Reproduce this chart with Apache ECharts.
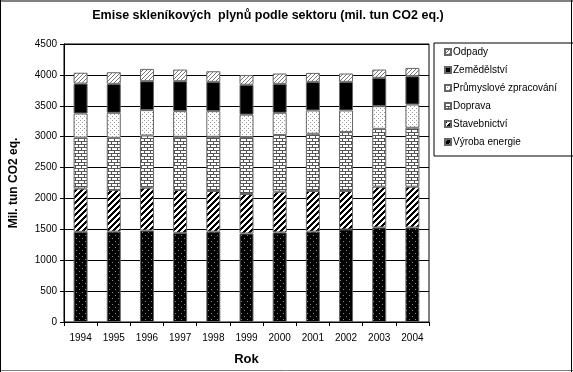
<!DOCTYPE html>
<html>
<head>
<meta charset="utf-8">
<script src="https://cdn.jsdelivr.net/npm/echarts@6/dist/echarts.min.js"></script>
<style>html,body{margin:0;padding:0;background:#fff}#c{width:573px;height:372px}</style>
</head>
<body>
<div id="c"></div>
<script>
var years = ['1994','1995','1996','1997','1998','1999','2000','2001','2002','2003','2004'];
var vyrobaEnergie = [1460,1463,1480,1443,1463,1433,1450,1463,1498,1530,1530];
var stavebnictvi  = [700,674,694,694,657,639,659,657,622,660,660];
var doprava       = [825,845,845,861,878,921,917,927,954,937,954];
var prumysl       = [390,404,411,415,415,363,360,377,350,367,376];
var zemedelstvi   = [485,469,468,485,474,484,469,463,463,458,458];
var odpady        = [175,188,199,188,172,158,167,145,135,134,135];
var yTicks = [0,4500,500];
var titleText = 'Emise skleníkových  plynů podle sektoru (mil. tun CO2 eq.)';

function tile(w, h, fn) {
  var c = document.createElement('canvas');
  c.width = w; c.height = h;
  var ctx = c.getContext('2d');
  for (var y = 0; y < h; y++) for (var x = 0; x < w; x++) {
    ctx.fillStyle = fn(x, y);
    ctx.fillRect(x, y, 1, 1);
  }
  return {image: c, repeat: 'repeat'};
}
var pVyroba = tile(6, 6, function(x,y){ return ((x===1&&y===1)||(x===4&&y===4)) ? '#8a8a8a' : '#000'; });
var pStav = tile(6, 6, function(x,y){ return ((x+y)%6) < 3 ? '#000' : '#fff'; });
var pDoprava = tile(6, 6, function(x,y){
  if (y === 0 || y === 3) return '#555';
  if (y < 3 && x === 0) return '#555';
  if (y > 3 && x === 3) return '#555';
  return '#fff';
});
var pPrumysl = tile(4, 4, function(x,y){ return ((x===0&&y===0)||(x===2&&y===2)) ? '#9a9a9a' : '#fff'; });
var pOdpady = tile(4, 4, function(x,y){ return ((x+y)%4)===0 ? '#777' : '#fff'; });

function s(name, data, color) {
  return {
    name: name, type: 'bar', stack: 'a', data: data, barWidth: 14,
    itemStyle: {color: color, borderColor: '#666', borderWidth: 1},
    emphasis: {disabled: true}
  };
}

var chart = echarts.init(document.getElementById('c'), null, {renderer: 'canvas'});
chart.setOption({
  animation: false,
  backgroundColor: '#fff',
  textStyle: {fontFamily: 'Arial, Liberation Sans, sans-serif', color: '#000'},
  grid: {left: 59, right: 144, top: 44, bottom: 50, show: true, borderColor: '#000', borderWidth: 1},
  legend: {
    orient: 'vertical', left: 434, top: 43,
    data: ['Odpady','Zemědělství','Průmyslové zpracování','Doprava','Stavebnictví','Výroba energie'],
    itemWidth: 6, itemHeight: 6, itemGap: 8, icon: 'rect',
    borderColor: '#000', borderWidth: 1, padding: [4, 20, 9, 10],
    textStyle: {fontSize: 10, color: '#000', fontFamily: 'Arial', padding: [0,0,0,-3]},
    selectedMode: false
  },
  xAxis: {
    type: 'category', data: years,
    name: 'Rok', nameLocation: 'middle', nameGap: 31,
    nameTextStyle: {fontSize: 13, fontWeight: 'bold', color: '#000'},
    axisLine: {lineStyle: {color: '#000', width: 1}},
    axisTick: {show: true, length: 4, lineStyle: {color: '#000'}},
    axisLabel: {fontSize: 10, color: '#000', margin: 11}
  },
  yAxis: {
    type: 'value', min: yTicks[0], max: yTicks[1], interval: yTicks[2],
    name: 'Mil. tun CO2 eq.', nameLocation: 'middle', nameGap: 44, nameRotate: 90,
    nameTextStyle: {fontSize: 12, fontWeight: 'bold', color: '#000'},
    axisLine: {show: true, lineStyle: {color: '#000', width: 1}},
    axisTick: {show: true, length: 4, lineStyle: {color: '#000'}},
    axisLabel: {fontSize: 10, color: '#000', margin: 7, formatter: function(v){ return String(v); }},
    splitLine: {show: true, lineStyle: {color: '#000', width: 1}}
  },
  series: [
    s('Výroba energie', vyrobaEnergie, pVyroba),
    s('Stavebnictví', stavebnictvi, pStav),
    s('Doprava', doprava, pDoprava),
    s('Průmyslové zpracování', prumysl, pPrumysl),
    s('Zemědělství', zemedelstvi, '#000'),
    s('Odpady', odpady, pOdpady)
  ],
  graphic: [
    {type: 'text', x: 268, y: 16, style: {text: titleText, font: 'bold 12.5px Arial', fill: '#000', align: 'center', verticalAlign: 'middle'}},
    {type: 'line', shape: {x1: 0, y1: 1, x2: 573, y2: 1}, style: {stroke: '#808080', lineWidth: 2}},
    {type: 'line', shape: {x1: 0, y1: 370.5, x2: 573, y2: 370.5}, style: {stroke: '#808080', lineWidth: 1}},
    {type: 'line', shape: {x1: 0.5, y1: 0, x2: 0.5, y2: 372}, style: {stroke: '#000', lineWidth: 1}},
    {type: 'line', shape: {x1: 571.5, y1: 0, x2: 571.5, y2: 372}, style: {stroke: '#000', lineWidth: 1}}
  ]
});
</script>
</body>
</html>
